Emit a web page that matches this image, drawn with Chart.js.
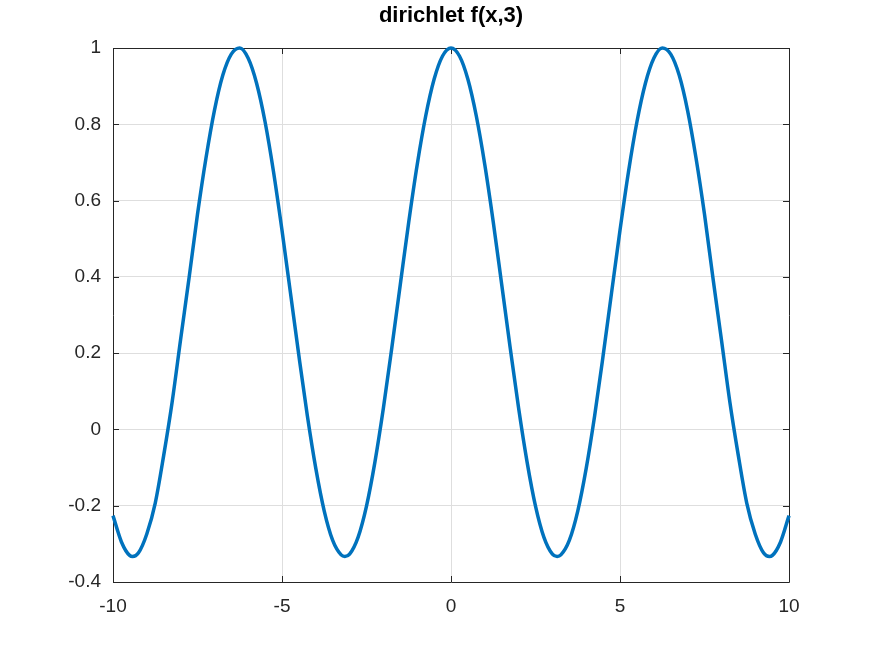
<!DOCTYPE html>
<html>
<head>
<meta charset="utf-8">
<script src="https://cdn.jsdelivr.net/npm/chart.js@4/dist/chart.umd.min.js"></script>
<style>
  html, body { margin: 0; padding: 0; background: #fff; }
  #c { display: block; }
</style>
</head>
<body>
<canvas id="c" width="872" height="654"></canvas>
<script>
// values
var xVals = [-10, -9.75, -9.5, -9.42, -9.25, -9, -8.75, -8.5, -8.25, -8, -7.75, -7.5, -7.25, -7, -6.75, -6.5, -6.25, -6, -5.75, -5.5, -5.25, -5,
             -4.75, -4.5, -4.25, -4, -3.75, -3.5, -3.25, -3.14, -3, -2.75, -2.5, -2.25, -2, -1.75, -1.5, -1.25, -1, -0.75, -0.5, -0.25,
             0, 0.25, 0.5, 0.75, 1, 1.25, 1.5, 1.75, 2, 2.25, 2.5, 2.75, 3, 3.14, 3.25, 3.5, 3.75, 4, 4.25, 4.5, 4.75,
             5, 5.25, 5.5, 5.75, 6, 6.25, 6.5, 6.75, 7, 7.25, 7.5, 7.75, 8, 8.25, 8.5, 8.75, 9, 9.25, 9.42, 9.5, 9.75, 10];
var yVals = [-0.226, -0.295, -0.331, -0.333, -0.324, -0.274, -0.193, -0.068, 0.072, 0.236, 0.397, 0.564, 0.711, 0.836, 0.929, 0.984, 1.0, 0.973, 0.907, 0.806, 0.675, 0.522,
             0.358, 0.193, 0.036, -0.102, -0.214, -0.291, -0.329, -0.333, -0.327, -0.283, -0.201, -0.085, 0.056, 0.215, 0.380, 0.544, 0.694, 0.821, 0.918, 0.979,
             1.0, 0.979, 0.918, 0.821, 0.694, 0.544, 0.380, 0.215, 0.056, -0.085, -0.201, -0.283, -0.327, -0.333, -0.329, -0.291, -0.214, -0.102, 0.036, 0.193, 0.358,
             0.522, 0.675, 0.806, 0.907, 0.973, 1.0, 0.984, 0.929, 0.836, 0.711, 0.564, 0.397, 0.236, 0.072, -0.068, -0.193, -0.274, -0.324, -0.333, -0.331, -0.295, -0.226];
var xTicks = [-10, -5, 0, 5, 10];
var yTicks = [-0.4, -0.2, 0, 0.2, 0.4, 0.6, 0.8, 1];
var titleText = 'dirichlet f(x,3)';

var pts = [];
for (var i = 0; i < xVals.length; i++) {
  pts.push({x: xVals[i], y: yVals[i]});
}

var axisColor = '#262626';
var fontFam = '"Liberation Sans", Arial, sans-serif';

// box + small inward tick marks drawn under the curve, title centred over the axes
var boxPlugin = {
  id: 'box',
  beforeDatasetsDraw: function(chart) {
    var ctx = chart.ctx, a = chart.chartArea;
    var xs = chart.scales.x, ys = chart.scales.y;
    ctx.save();
    ctx.strokeStyle = axisColor;
    ctx.lineWidth = 1;
    ctx.beginPath();
    ctx.rect(Math.round(a.left) + 0.5, Math.round(a.top) + 0.5, Math.round(a.right - a.left), Math.round(a.bottom - a.top));
    ctx.stroke();
    var len = 6;
    ctx.beginPath();
    xTicks.forEach(function(v) {
      var px = Math.round(xs.getPixelForValue(v)) + 0.5;
      ctx.moveTo(px, a.bottom); ctx.lineTo(px, a.bottom - len);
      ctx.moveTo(px, a.top); ctx.lineTo(px, a.top + len);
    });
    yTicks.forEach(function(v) {
      var py = Math.round(ys.getPixelForValue(v)) + 0.5;
      ctx.moveTo(a.left, py); ctx.lineTo(a.left + len, py);
      ctx.moveTo(a.right, py); ctx.lineTo(a.right - len, py);
    });
    ctx.stroke();

    ctx.fillStyle = '#000';
    ctx.font = 'bold 22px ' + fontFam;
    ctx.textAlign = 'center';
    ctx.textBaseline = 'middle';
    ctx.fillText(titleText, (a.left + a.right) / 2, 16);
    ctx.restore();
  }
};

var chart = new Chart(document.getElementById('c').getContext('2d'), {
  type: 'line',
  data: {
    datasets: [{
      data: pts,
      borderColor: '#0072BD',
      borderWidth: 3.5,
      pointRadius: 0,
      fill: false,
      clip: false,
      cubicInterpolationMode: 'monotone'
    }]
  },
  options: {
    responsive: false,
    animation: false,
    layout: { padding: { left: 0, right: 83, top: 48, bottom: 0 } },
    plugins: {
      legend: { display: false },
      tooltip: { enabled: false },
      title: { display: false }
    },
    scales: {
      x: {
        type: 'linear',
        min: -10, max: 10,
        afterBuildTicks: function(s) { s.ticks = xTicks.map(function(v) { return {value: v}; }); },
        afterFit: function(s) { s.height = 72; },
        grid: { color: '#dedede', drawTicks: false },
        border: { display: false },
        ticks: {
          color: axisColor,
          padding: 13,
          maxRotation: 0,
          font: { family: fontFam, size: 19 }
        }
      },
      y: {
        type: 'linear',
        min: -0.4, max: 1,
        afterBuildTicks: function(s) { s.ticks = yTicks.map(function(v) { return {value: v}; }); },
        afterFit: function(s) { s.width = 113; },
        grid: { color: '#dedede', drawTicks: false },
        border: { display: false },
        ticks: {
          color: axisColor,
          padding: 12,
          font: { family: fontFam, size: 19 },
          callback: function(v) { return String(Math.round(v * 10) / 10); }
        }
      }
    }
  },
  plugins: [boxPlugin]
});
</script>
</body>
</html>
